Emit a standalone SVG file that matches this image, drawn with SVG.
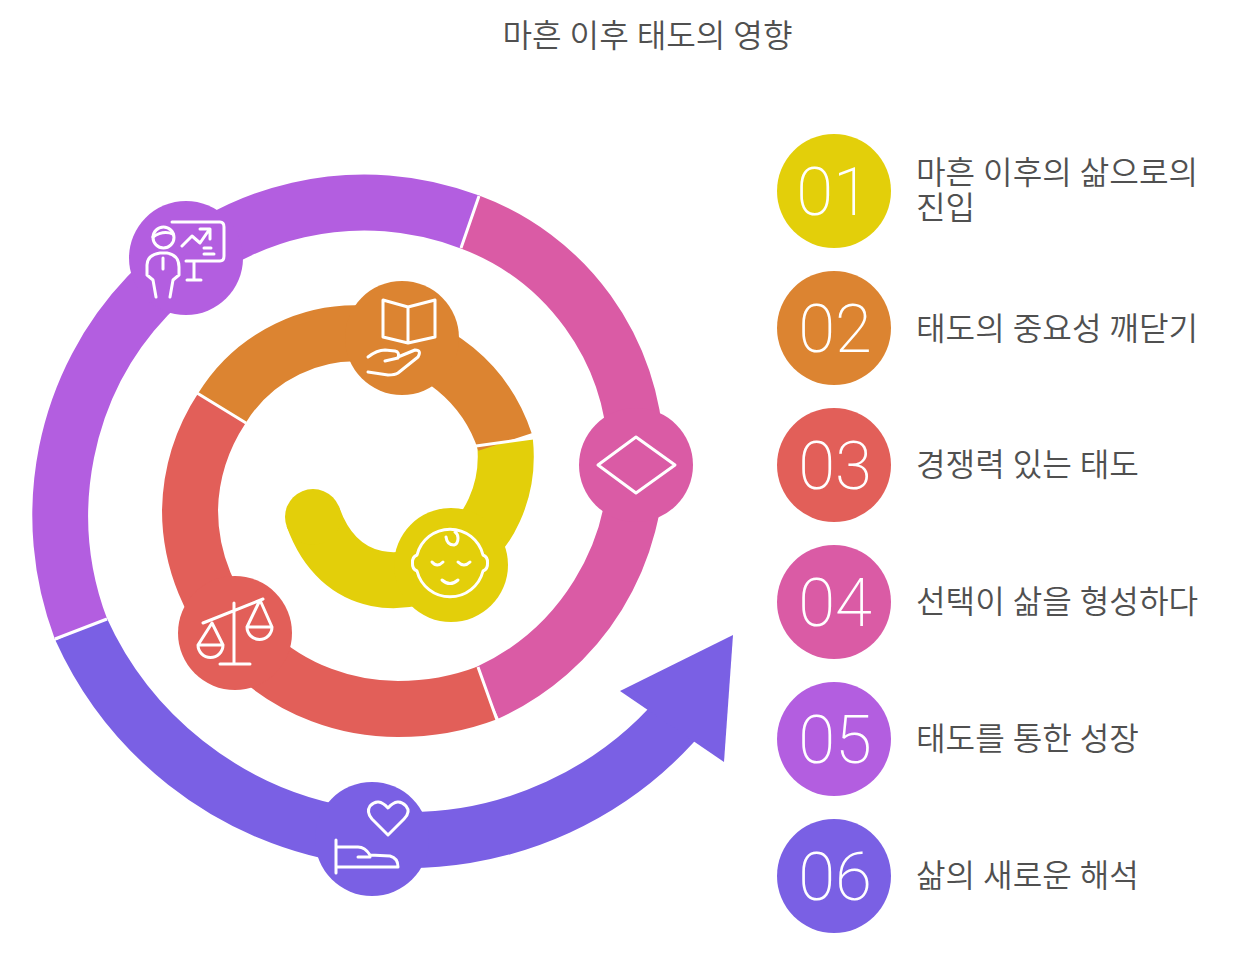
<svg xmlns="http://www.w3.org/2000/svg" width="1236" height="955" viewBox="0 0 1236 955">
<style>
.seg{fill:none;stroke-width:56}
.sep{stroke:#fff;stroke-width:3;fill:none}
.ic{fill:none;stroke:#fff;stroke-width:3;stroke-linecap:round;stroke-linejoin:round}
.t{font-family:"Roboto","Noto Sans CJK KR",sans-serif;font-weight:350;font-size:32.2px;fill:#505050}
.n{font-family:"Roboto",sans-serif;font-weight:200;font-size:67px;fill:#fff;text-anchor:middle}
</style>
<rect width="1236" height="955" fill="#fff"/>
<text class="t" x="502.500" y="47">마흔 이후 태도의 영향</text>
<g id="connectors">
<path class="seg" stroke="#7a60e4" d="M81,629 A359,359 0 0 0 691,702"/>
<polygon fill="#7a60e4" points="733,635 724,762 620,691"/>
<path class="seg" stroke="#b35ee0" d="M470,222 A304,313 0 0 0 81,629"/>
<path class="seg" stroke="#da5ba5" d="M470,222 A255,255 0 0 1 487,693"/>
<path class="seg" stroke="#e25f59" d="M487,693 Q445,709 398,709 A208,199 0 0 1 190,510 A208,199 0 0 1 222,408"/>
<path class="seg" stroke="#e3cf0a" d="M505,442 C510,490 490,535 450,562 C410,590 340,593 313,517"/>
<circle cx="313" cy="517" r="28" fill="#e3cf0a"/>
<path class="seg" stroke="#dc8431" d="M222,408 A157,157 0 0 1 505,442"/>
<path class="sep" d="M461,248 L479,196 M478,667 L497,720 M197,393 L246,423 M476,446 L533,438 M55,639 L107,619"/>
</g>
<g id="node-purple"><circle cx="186" cy="258" r="57" fill="#b35ee0"/>
<path class="ic" d="M172,222H220Q224,222 224,227V256Q224,261 220,261H186M194,262V279M187,280H201M182,246L192,236L200,243L209,230M200,229H210V239M204,248H211M204,254H214M153,237Q163,230 173,234M156,297L153,280L147,275V265Q147,255 160,253H167Q179,255 179,267V275L173,280L170,297M163,258V269"/><circle class="ic" cx="163.500" cy="237.500" r="10.500"/></g>
<g id="node-orange"><circle cx="402" cy="338" r="57" fill="#dc8431"/>
<path class="ic" d="M383,300L408,307V343L383,337ZM435,300L408,307M435,337L408,343M435,300V337M368,357Q377,350 385,350L395,351Q400,352 398,358L385,361M398,357L415,350Q422,350 418,357L398,373Q395,375 388,375L368,372"/></g>
<g id="node-yellow"><circle cx="451" cy="565" r="57" fill="#e3cf0a"/>
<path class="ic" d="M417,555A34,34 0 0 1 483,555Q488,557 487.500,563Q488,569 483,571A34,34 0 0 1 417,571Q412,569 412.500,563Q412,557 417,555ZM446,537Q447,545 454,545Q458,544 458,538Q458,534 455,532M432,562Q437,568 443,562M458,562Q464,568 470,562M442,580Q450,587 458,580"/></g>
<g id="node-pink"><circle cx="636" cy="465" r="57" fill="#da5ba5"/>
<path class="ic" d="M636,437L675,465L636,493L598,465Z"/></g>
<g id="node-red"><circle cx="235" cy="633" r="57" fill="#e25f59"/>
<path class="ic" d="M203,623L263,599M234,603V663M220,664H250M212,623L198,645A12.500,12.500 0 0 0 223,645ZM198,645H223M260,600L247,627A12.500,12.500 0 0 0 272,627ZM247,627H272"/></g>
<g id="node-blue"><circle cx="372" cy="839" r="57" fill="#7a60e4"/>
<path class="ic" d="M388,835L372,819Q366,812 370,806Q378,797 388,808Q398,797 406,806Q411,812 404,819ZM336,840V873M336,847H358Q365,847 370,855L390,856Q398,858 398,867H336M358,857H370"/></g>
<g id="item-01"><circle cx="834" cy="191" r="57" fill="#e3cf0a"/><text class="n" x="833" y="215">01</text>
<text class="t"><tspan x="916" y="184">마흔 이후의 삶으로의</tspan><tspan x="916" y="219">진입</tspan></text></g>
<g id="item-02"><circle cx="834" cy="328" r="57" fill="#dc8431"/><text class="n" x="835" y="352">02</text>
<text class="t" x="916" y="340">태도의 중요성 깨닫기</text></g>
<g id="item-03"><circle cx="834" cy="465" r="57" fill="#e25f59"/><text class="n" x="835" y="489">03</text>
<text class="t" x="916" y="476">경쟁력 있는 태도</text></g>
<g id="item-04"><circle cx="834" cy="602" r="57" fill="#da5ba5"/><text class="n" x="835" y="626">04</text>
<text class="t" x="916" y="613">선택이 삶을 형성하다</text></g>
<g id="item-05"><circle cx="834" cy="739" r="57" fill="#b35ee0"/><text class="n" x="835" y="763">05</text>
<text class="t" x="916" y="750">태도를 통한 성장</text></g>
<g id="item-06"><circle cx="834" cy="876" r="57" fill="#7a60e4"/><text class="n" x="835" y="900">06</text>
<text class="t" x="916" y="887">삶의 새로운 해석</text></g>
</svg>
